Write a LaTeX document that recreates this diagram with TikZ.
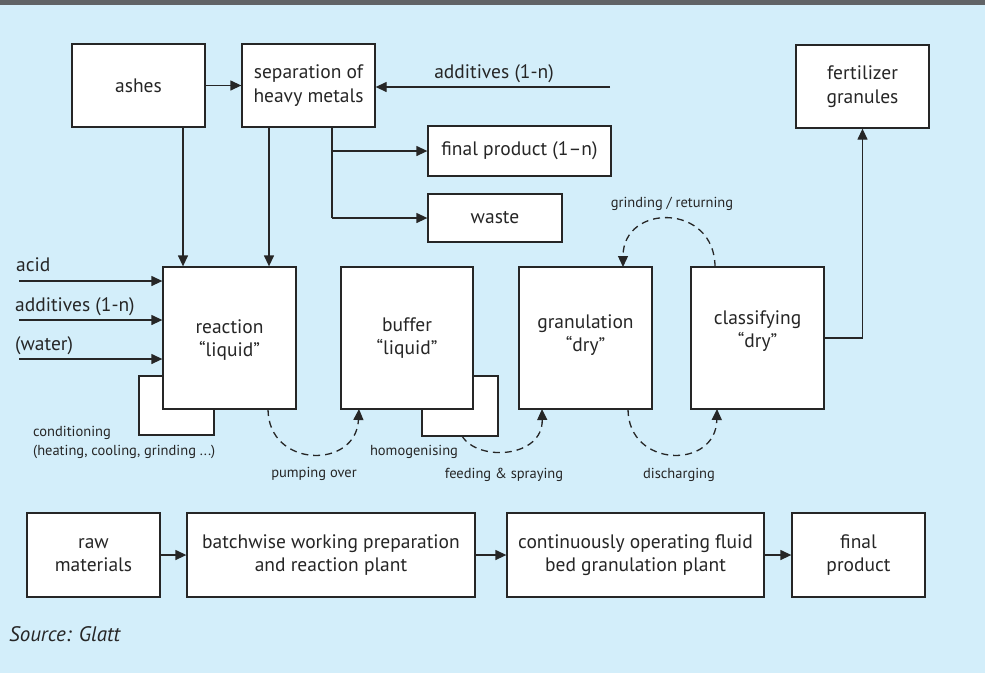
\documentclass[tikz,border=0pt]{standalone}
\usepackage{fontspec}
\setmainfont{PT Sans}
\usetikzlibrary{arrows.meta}
\definecolor{bg}{RGB}{211,238,250}
\definecolor{ink}{RGB}{38,38,38}
\definecolor{bar}{RGB}{96,99,102}
\begin{document}
\begin{tikzpicture}[x=1pt,y=-1pt,
  box/.style={draw=ink, line width=1.3pt, fill=white, rectangle, inner sep=0pt, align=center,
              font=\fontsize{19.5}{23.5}\selectfont, text=ink},
  lbl/.style={font=\fontsize{19.5}{23.5}\selectfont, text=ink, inner sep=0pt},
  small/.style={font=\fontsize{14.5}{19}\selectfont, text=ink, inner sep=0pt, align=left},
  arr/.style={draw=ink, line width=1.3pt, -{Triangle[length=11pt,width=10pt]}},
  plain/.style={draw=ink, line width=1.3pt},
  dasharr/.style={arr, dash pattern=on 7pt off 5pt},
]
\useasboundingbox (0,0) rectangle (985,673);
\fill[bg] (0,0) rectangle (985,673);
\fill[bar] (0,0) rectangle (985,5);

% top row
\node[box, minimum width=133pt, minimum height=83pt] (ashes) at (138.5,85.5) {ashes};
\node[box, minimum width=133pt, minimum height=83pt] (sep) at (308.5,85.5) {separation of\\heavy metals};
\node[box, minimum width=133pt, minimum height=83pt] (fert) at (862.5,86.5) {fertilizer\\granules};
\node[box, minimum width=183pt, minimum height=50pt] (fp) at (519.5,151) {final product (1–n)};
\node[box, minimum width=134pt, minimum height=48pt] (waste) at (495,218) {waste};

% process row (back boxes first)
\node[box, minimum width=75pt, minimum height=59pt] (cond) at (176.5,405.5) {};
\node[box, minimum width=76pt, minimum height=60pt] (homog) at (460,406) {};
\node[box, minimum width=133pt, minimum height=142pt] (reac) at (229.5,338) {};
\node[lbl, align=center] (reactext) at (229.5,340) {reaction\\“liquid”};
\node[box, minimum width=132pt, minimum height=142pt] (buf) at (407,338) {buffer\\“liquid”};
\node[box, minimum width=133pt, minimum height=142pt] (gran) at (585.5,338) {};
\node[lbl, align=center] (grantext) at (585.5,335) {granulation\\“dry”};
\node[box, minimum width=133pt, minimum height=142pt] (cls) at (757.5,338) {};
\node[lbl, align=center] (clstext) at (757.5,331) {classifying\\“dry”};

% bottom row
\node[box, minimum width=133pt, minimum height=84pt] (raw) at (93.5,555) {raw\\materials};
\node[box, minimum width=288pt, minimum height=84pt] (batch) at (331,555) {batchwise working preparation\\and reaction plant};
\node[box, minimum width=257pt, minimum height=84pt] (cont) at (635.5,555) {continuously operating fluid\\bed granulation plant};
\node[box, minimum width=133pt, minimum height=84pt] (final) at (858.5,555) {final\\product};

% labels
\node[lbl, anchor=base] (addtop) at (494,78) {additives (1-n)};
\node[lbl, anchor=base west] (acid) at (16,271) {acid};
\node[lbl, anchor=base west] (addl) at (15,311) {additives (1-n)};
\node[lbl, anchor=base west] (water) at (15,350) {(water)};
\node[small, anchor=base west] (condl) at (33,436) {conditioning};
\node[small, anchor=base west] (condl2) at (33,455) {(heating, cooling, grinding ...)};
\node[small, anchor=base] (pump) at (314,477) {pumping over};
\node[small, anchor=base] (homl) at (414,455) {homogenising};
\node[small, anchor=base] (feed) at (504,478) {feeding \& spraying};
\node[small, anchor=base] (disc) at (679,478) {discharging};
\node[small, anchor=base] (grind) at (672,207) {grinding / returning};
\node[lbl, anchor=base west, font=\fontsize{21}{25}\selectfont\itshape] (src) at (9,641) {Source: Glatt};

% helper coordinates
\coordinate (addstart) at (610,87);
\coordinate (xa) at (183,0);
\coordinate (xb) at (269,0);
\coordinate (xc) at (332,0);
\coordinate (in1) at (19,281);
\coordinate (in2) at (19,320);
\coordinate (in3) at (19,359);

% connectors
\draw[arr] (ashes) -- (sep);
\draw[arr] (addstart) -- (sep.east |- addstart);
\draw[arr] (ashes.south -| xa) -- (reac.north -| xa);
\draw[arr] (sep.south -| xb) -- (reac.north -| xb);
\draw[plain] (sep.south -| xc) -- (xc |- waste);
\draw[arr] (xc |- fp) -- (fp.west);
\draw[arr] (xc |- waste) -- (waste.west);
\draw[arr] (in1) -- (reac.west |- in1);
\draw[arr] (in2) -- (reac.west |- in2);
\draw[arr] (in3) -- (reac.west |- in3);
\draw[arr] (cls.east) -| (fert.south);

\coordinate (p1) at (268,409);
\coordinate (p2) at (359,409);
\coordinate (h1) at (462,436);
\coordinate (h2) at (542,409);
\coordinate (d1) at (628,409);
\coordinate (d2) at (717,409);
\coordinate (g1) at (715,267);
\coordinate (g2) at (623,267);
\draw[dasharr] (p1) .. controls (268,468) and (356,470) .. (p2);
\draw[dasharr] (h1) .. controls (478,462) and (543,458) .. (h2);
\draw[dasharr] (d1) .. controls (628,468) and (716,470) .. (d2);
\draw[dasharr] (g1) .. controls (715,203) and (623,203) .. (g2);

\draw[arr] (raw) -- (batch);
\draw[arr] (batch) -- (cont);
\draw[arr] (cont) -- (final);
\end{tikzpicture}
\end{document}
